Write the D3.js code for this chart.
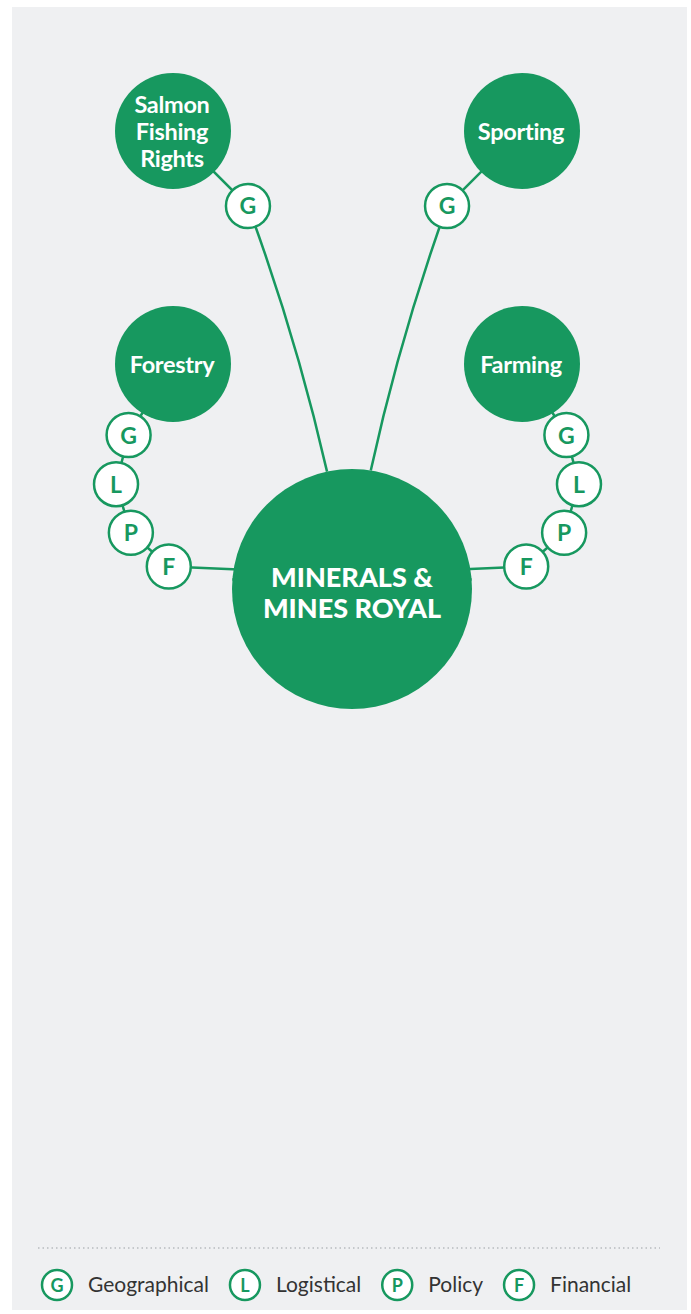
<!DOCTYPE html>
<html>
<head>
<meta charset="utf-8">
<script src="https://cdn.jsdelivr.net/npm/d3@7"></script>
<style>
  body { margin: 0; background: #fff; }
  svg { display: block; }
</style>
</head>
<body>
<svg id="chart"></svg>
<script>
// categories round the hub, and the constraint badges each one carries
let hubLabel = ['MINERALS &', 'MINES ROYAL'];
let categories = ['Salmon Fishing Rights', 'Sporting', 'Forestry', 'Farming'];
let categoryLines = [['Salmon', 'Fishing', 'Rights'], ['Sporting'], ['Forestry'], ['Farming']];
let sides = ['left', 'right', 'left', 'right'];
let tiers = ['top', 'top', 'middle', 'middle'];
let constraints = [['G'], ['G'], ['G', 'L', 'P', 'F'], ['G', 'L', 'P', 'F']];
let legendCodes = ['G', 'L', 'P', 'F'];
let legendLabels = ['Geographical', 'Logistical', 'Policy', 'Financial'];

let width = 691;
let height = 1314;
let green = '#17985f';
let font = 'Lato, "Open Sans", sans-serif';

let hub = { x: 352, y: 589, r: 120 };
let satR = 58;
let badgeR = 22;

let xScale = d3.scalePoint().domain(['left', 'right']).range([173, 522]);
let yScale = d3.scalePoint().domain(['top', 'middle']).range([131, 364]);
// badges on the side chains sit on an arc round a pivot below the category
let arcAngle = d3.scaleLinear().domain([0, 3]).range([-30, 64]);

let svg = d3.select('#chart')
  .attr('width', width)
  .attr('height', height);

svg.append('rect')
  .attr('x', 12)
  .attr('y', 7)
  .attr('width', 675)
  .attr('height', 1303)
  .attr('fill', '#eff0f2');

let rad = deg => deg * Math.PI / 180;

let nodes = categories.map((name, i) => {
  let dir = sides[i] === 'left' ? -1 : 1;
  let sat = { x: xScale(sides[i]), y: yScale(tiers[i]) };
  let badges;
  let end;
  if (tiers[i] === 'top') {
    let d = 106;
    badges = constraints[i].map(c => ({
      code: c,
      x: sat.x - dir * d * Math.SQRT1_2,
      y: sat.y + d * Math.SQRT1_2
    }));
    let a = rad(dir < 0 ? -12 : 9);
    end = { x: hub.x + hub.r * Math.sin(a), y: hub.y - hub.r * Math.cos(a) };
  } else {
    let pivot = { x: sat.x - dir * 37, y: sat.y + 118 };
    badges = constraints[i].map((c, j) => {
      let a = rad(arcAngle(j));
      return {
        code: c,
        x: pivot.x + dir * 94 * Math.cos(a),
        y: pivot.y + 94 * Math.sin(a)
      };
    });
    let a = rad(4.5);
    end = { x: hub.x - dir * hub.r * Math.cos(a), y: hub.y - hub.r * Math.sin(a) };
  }
  return { name, lines: categoryLines[i], dir, tier: tiers[i], sat, badges, end };
});

let links = svg.append('g')
  .attr('fill', 'none')
  .attr('stroke', green)
  .attr('stroke-width', 2.5);

nodes.forEach(n => {
  let pts = [n.sat].concat(n.badges);
  links.append('path')
    .attr('d', d3.line().x(p => p.x).y(p => p.y)(pts));

  let last = n.badges[n.badges.length - 1];
  if (n.tier === 'top') {
    // gently bowed stem down to the hub
    let mx = (last.x + n.end.x) / 2;
    let my = (last.y + n.end.y) / 2;
    let dx = n.end.x - last.x;
    let dy = n.end.y - last.y;
    let len = Math.hypot(dx, dy);
    let off = -9 * n.dir;
    let p = d3.path();
    p.moveTo(last.x, last.y);
    p.quadraticCurveTo(mx + off * dy / len, my - off * dx / len, n.end.x, n.end.y);
    links.append('path').attr('d', p.toString());
  } else {
    links.append('path')
      .attr('d', d3.line()([[last.x, last.y], [n.end.x, n.end.y]]));
  }
});

// hub
svg.append('circle')
  .attr('cx', hub.x)
  .attr('cy', hub.y)
  .attr('r', hub.r)
  .attr('fill', green);

svg.append('text')
  .attr('x', hub.x)
  .attr('text-anchor', 'middle')
  .attr('fill', '#fff')
  .style('font-family', font)
  .style('font-weight', 900)
  .style('font-size', '27px')
  .selectAll('tspan')
  .data(hubLabel)
  .enter()
  .append('tspan')
  .attr('x', hub.x)
  .attr('y', (d, i) => 587 + i * 31)
  .text(d => d);

// category circles
let sats = svg.selectAll('.sat')
  .data(nodes)
  .enter()
  .append('g')
  .attr('class', 'sat');

sats.append('circle')
  .attr('cx', d => d.sat.x)
  .attr('cy', d => d.sat.y)
  .attr('r', satR)
  .attr('fill', green);

sats.append('text')
  .attr('text-anchor', 'middle')
  .attr('fill', '#fff')
  .style('font-family', font)
  .style('font-weight', 700)
  .style('font-size', '23.5px')
  .style('letter-spacing', '-0.3px')
  .each(function (d) {
    let n = d.lines.length;
    d3.select(this).selectAll('tspan')
      .data(d.lines)
      .enter()
      .append('tspan')
      .attr('x', d.sat.x - 1)
      .attr('y', (l, j) => d.sat.y + (j - (n - 1) / 2) * 27 + 9)
      .text(l => l);
  });

// badges
let badgeData = nodes.flatMap(n => n.badges);

let badges = svg.selectAll('.badge')
  .data(badgeData)
  .enter()
  .append('g')
  .attr('class', 'badge');

badges.append('circle')
  .attr('cx', d => d.x)
  .attr('cy', d => d.y)
  .attr('r', badgeR)
  .attr('fill', '#fff')
  .attr('stroke', green)
  .attr('stroke-width', 2.5);

badges.append('text')
  .attr('x', d => d.x)
  .attr('y', d => d.y + 8.5)
  .attr('text-anchor', 'middle')
  .attr('fill', green)
  .style('font-family', font)
  .style('font-weight', 700)
  .style('font-size', '23px')
  .text(d => d.code);

// legend
svg.append('line')
  .attr('x1', 38)
  .attr('x2', 660)
  .attr('y1', 1248)
  .attr('y2', 1248)
  .attr('stroke', '#b8bbbf')
  .attr('stroke-width', 1.5)
  .attr('stroke-dasharray', '1.5,3');

let legend = svg.append('g');
let lx = 57;
legendCodes.forEach((c, i) => {
  let g = legend.append('g');
  g.append('circle')
    .attr('cx', lx)
    .attr('cy', 1285)
    .attr('r', 15)
    .attr('fill', '#fff')
    .attr('stroke', green)
    .attr('stroke-width', 2.5);
  g.append('text')
    .attr('x', lx)
    .attr('y', 1291.5)
    .attr('text-anchor', 'middle')
    .attr('fill', green)
    .style('font-family', font)
    .style('font-weight', 700)
    .style('font-size', '18px')
    .text(c);
  let t = g.append('text')
    .attr('x', lx + 31)
    .attr('y', 1292)
    .attr('fill', '#333')
    .style('font-family', font)
    .style('font-size', '21px')
    .text(legendLabels[i]);
  lx = lx + 31 + t.node().getComputedTextLength() + 36;
});
</script>
</body>
</html>
